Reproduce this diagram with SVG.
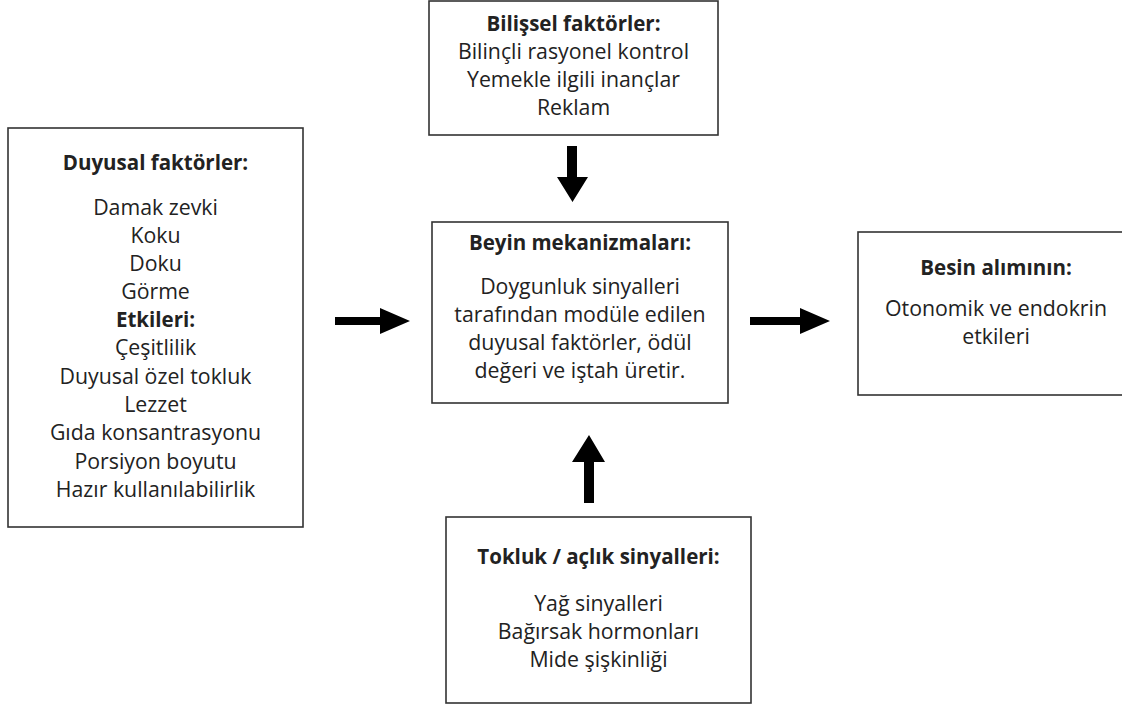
<svg xmlns="http://www.w3.org/2000/svg" width="1122" height="707" viewBox="0 0 1122 707">
<style>
.box{fill:#fff;stroke:#333;stroke-width:1.6}
text{font-family:"Open Sans","Noto Sans","Liberation Sans",sans-serif;font-size:21.3px;fill:#222;text-anchor:middle}
.b{font-weight:bold;font-size:20.5px}
.arr{fill:#000}
</style>
<rect width="1122" height="707" fill="#fff"/>
<g id="duyusal">
<rect class="box" x="8" y="128" width="295" height="399"/>
<text class="b" x="155.5" y="170">Duyusal faktörler:</text>
<text x="155.5" y="215">Damak zevki</text>
<text x="155.5" y="243">Koku</text>
<text x="155.5" y="271">Doku</text>
<text x="155.5" y="299">Görme</text>
<text class="b" x="155.5" y="327">Etkileri:</text>
<text x="155.5" y="355">Çeşitlilik</text>
<text x="155.5" y="384">Duyusal özel tokluk</text>
<text x="155.5" y="412">Lezzet</text>
<text x="155.5" y="440">Gıda konsantrasyonu</text>
<text x="155.5" y="469">Porsiyon boyutu</text>
<text x="155.5" y="497">Hazır kullanılabilirlik</text>
</g>
<g id="bilissel">
<rect class="box" x="429" y="1" width="289" height="134"/>
<text class="b" x="573.5" y="31">Bilişsel faktörler:</text>
<text x="573.5" y="59">Bilinçli rasyonel kontrol</text>
<text x="573.5" y="87">Yemekle ilgili inançlar</text>
<text x="573.5" y="115">Reklam</text>
</g>
<g id="beyin">
<rect class="box" x="432" y="222" width="296" height="181"/>
<text class="b" x="580" y="250">Beyin mekanizmaları:</text>
<text x="580" y="294">Doygunluk sinyalleri</text>
<text x="580" y="322">tarafından modüle edilen</text>
<text x="580" y="350">duyusal faktörler, ödül</text>
<text x="580" y="378">değeri ve iştah üretir.</text>
</g>
<g id="besin">
<rect class="box" x="858" y="232" width="280" height="163"/>
<text class="b" x="996" y="275">Besin alımının:</text>
<text x="996" y="316">Otonomik ve endokrin</text>
<text x="996" y="344">etkileri</text>
</g>
<g id="tokluk">
<rect class="box" x="446" y="517" width="305" height="186"/>
<text class="b" x="598.5" y="564">Tokluk / açlık sinyalleri:</text>
<text x="598.5" y="611">Yağ sinyalleri</text>
<text x="598.5" y="639">Bağırsak hormonları</text>
<text x="598.5" y="667">Mide şişkinliği</text>
</g>
<g id="connectors">
<polygon class="arr" points="335,317 380,317 380,308 410,321 380,334 380,325 335,325"/>
<polygon class="arr" points="750,317 800,317 800,308 830,321 800,334 800,325 750,325"/>
<polygon class="arr" points="567,146 577,146 577,177 588,177 572.5,202 557,177 567,177"/>
<polygon class="arr" points="589,435 605,462 594,462 594,503 584,503 584,462 572,462"/>
</g>
</svg>
